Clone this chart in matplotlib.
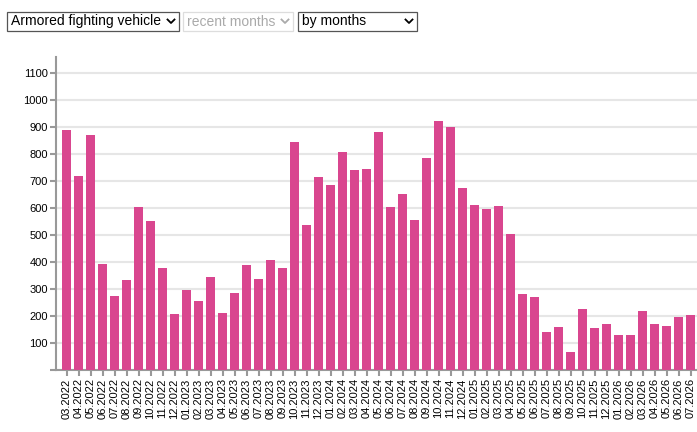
import matplotlib
matplotlib.use("Agg")
import matplotlib.pyplot as plt
from matplotlib.patches import Rectangle
from matplotlib.lines import Line2D

# monthly data
months = ["03.2022", "04.2022", "05.2022", "06.2022", "07.2022", "08.2022", "09.2022",
          "10.2022", "11.2022", "12.2022",
          "01.2023", "02.2023", "03.2023", "04.2023", "05.2023", "06.2023", "07.2023",
          "08.2023", "09.2023", "10.2023", "11.2023", "12.2023",
          "01.2024", "02.2024", "03.2024", "04.2024", "05.2024", "06.2024", "07.2024",
          "08.2024", "09.2024", "10.2024", "11.2024", "12.2024",
          "01.2025", "02.2025", "03.2025", "04.2025", "05.2025", "06.2025", "07.2025",
          "08.2025", "09.2025", "10.2025", "11.2025", "12.2025",
          "01.2026", "02.2026", "03.2026", "04.2026", "05.2026", "06.2026", "07.2026"]
values = [889, 719, 870, 393, 274, 333, 604, 552, 378, 207,
          296, 256, 344, 211, 285, 389, 337, 407, 378, 844, 537, 715,
          685, 807, 741, 744, 881, 604, 652, 556, 785, 922, 900, 674,
          611, 596, 607, 504, 281, 270, 141, 159, 67, 226, 156, 170,
          130, 130, 219, 170, 163, 196, 204]
yticks = [0, 100, 200, 300, 400, 500, 600, 700, 800, 900, 1000, 1100]

plt.rcParams['font.family'] = ['Liberation Sans', 'DejaVu Sans']

W, H = 697, 432
fig = plt.figure(figsize=(W / 100, H / 100), dpi=100)

ax = fig.add_axes([56 / W, 1 - 370 / H, (W - 56) / W, (370 - 57) / H])
x = list(range(len(values)))
ax.bar(x, values, width=0.75, color="#d9468f", zorder=3)
ax.set_xlim(-0.875, 52.54)
ax.set_ylim(0, 1160)
ax.set_yticks(yticks)
# no label on the zero tick
ax.set_yticklabels([str(v) if v else "" for v in yticks], fontsize=8)
ax.set_xticks(x)
ax.set_xticklabels(months, rotation=90, fontsize=8)
ax.yaxis.grid(True, color="#e6e6e6", linewidth=1.5, zorder=0)
for s in ["top", "right"]:
    ax.spines[s].set_visible(False)
for s in ["left", "bottom"]:
    ax.spines[s].set_color("#999999")
    ax.spines[s].set_linewidth(1.5)
ax.tick_params(axis="both", colors="#999999", labelcolor="black", length=4, width=1.5, pad=2)

# dropdown boxes on top
def px(xp, yp):
    return xp / W, 1 - yp / H

def dropdown(x0, x1, label, border, tcolor):
    y0, y1 = 12, 31
    fig.patches.append(Rectangle(px(x0, y1), (x1 - x0) / W, (y1 - y0) / H,
                                 transform=fig.transFigure, facecolor="white",
                                 edgecolor=border, linewidth=0.9))
    fig.text(*px(x0 + 4, 21.5), label, fontsize=10, color=tcolor, va="center", ha="left")
    cx = x1 - 8
    xs = [cx - 3.5, cx, cx + 3.5]
    ys = [19.5, 23, 19.5]
    fig.lines.append(Line2D([v / W for v in xs], [1 - v / H for v in ys],
                            transform=fig.transFigure, color=tcolor, linewidth=1.3))

dropdown(7, 179, "Armored fighting vehicle", "#555555", "black")
dropdown(183, 293, "recent months", "#dddddd", "#aaaaaa")
dropdown(298, 417, "by months", "#555555", "black")

fig.savefig("out.png", dpi=100)
